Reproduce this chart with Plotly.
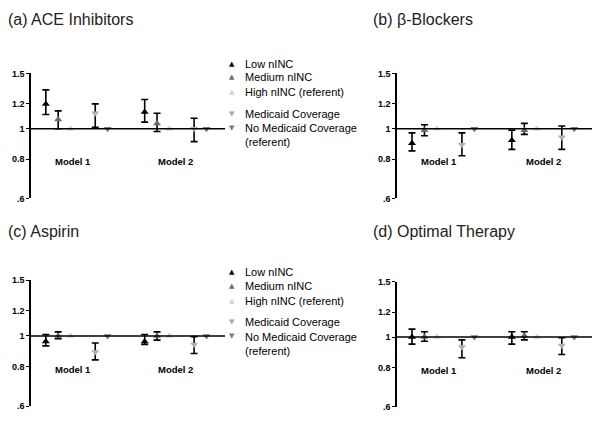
import math
import plotly.graph_objects as go

# The page body has an 8px margin, so the figure is drawn 8px in and the
# layout pixel coordinates below are shifted by OFF to land where intended.
OFF = 8
W, H = 600 - OFF, 421 - OFF

models = ["Model 1", "Model 2"]
series = ["Low nINC", "Medium nINC", "High nINC (referent)",
          "Medicaid Coverage", "No Medicaid Coverage (referent)"]
legend_labels = ["Low nINC", "Medium nINC", "High nINC (referent)",
                 "Medicaid Coverage", "No Medicaid Coverage<br>(referent)"]
titles = ["(a) ACE Inhibitors", "(b) \u03b2-Blockers", "(c) Aspirin", "(d) Optimal Therapy"]
tick_vals = [0.6, 0.8, 1.0, 1.2, 1.5]
tick_text = [".6", "0.8", "1", "1.2", "1.5"]

# values ordered [Model 1: Low, Medium, High, Medicaid, NoMedicaid, Model 2: same]
ace_or = [1.20, 1.07, 1.00, 1.12, 1.00, 1.13, 1.04, 1.00, 1.00, 1.00]
ace_lo = [1.11, 1.00, None, 1.01, None, 1.05, 0.98, None, 0.91, None]
ace_hi = [1.33, 1.14, None, 1.20, None, 1.24, 1.12, None, 1.08, None]

beta_or = [0.90, 0.99, 1.00, 0.89, 1.00, 0.92, 0.99, 1.00, 0.94, 1.00]
beta_lo = [0.85, 0.95, None, 0.82, None, 0.86, 0.96, None, 0.86, None]
beta_hi = [0.97, 1.03, None, 0.97, None, 0.99, 1.04, None, 1.02, None]

asp_or = [0.96, 1.00, 1.00, 0.89, 1.00, 0.96, 1.00, 1.00, 0.94, 1.00]
asp_lo = [0.93, 0.98, None, 0.84, None, 0.94, 0.97, None, 0.88, None]
asp_hi = [1.01, 1.03, None, 0.95, None, 1.01, 1.03, None, 0.995, None]

opt_or = [1.00, 1.00, 1.00, 0.93, 1.00, 1.00, 1.01, 1.00, 0.94, 1.00]
opt_lo = [0.95, 0.97, None, 0.86, None, 0.95, 0.98, None, 0.88, None]
opt_hi = [1.06, 1.04, None, 0.98, None, 1.04, 1.04, None, 0.995, None]

panels = [(ace_or, ace_lo, ace_hi), (beta_or, beta_lo, beta_hi),
          (asp_or, asp_lo, asp_hi), (opt_or, opt_lo, opt_hi)]

# styling
series_offsets = [1, 2, 3, 5, 6]
model_offsets = [0, 8]
model_label_pos = [3.2, 11.5]
symbols = ["triangle-up", "triangle-up", "triangle-up", "triangle-down", "triangle-down"]
colors = ["#000000", "#6a6a6a", "#d4d4d4", "#b0b0b0", "#7a7a7a"]
legend_colors = ["#000000", "#6a6a6a", "#d4d4d4", "#a8a8a8", "#7a7a7a"]
legend_syms = ["\u25b2", "\u25b2", "\u25b2", "\u25bc", "\u25bc"]

YMIN, YMAX = 0.6, 1.5
# panel geometry in screen pixels: (x_left, x_right, y_top(1.5), y_bottom(.6))
geom = [(31, 225, 70, 198), (397, 593, 70, 198),
        (31, 225, 281.7, 411), (397, 593, 283.3, 411.7)]
title_pos = [(8, 15), (373, 15), (8, 232), (373, 232)]


def px_x(x):
    return (x - OFF) / W


def px_y(y):
    return 1 - (y - OFF) / H


fig = go.Figure()
FONT = "Liberation Sans, Arial, sans-serif"
annotations = []
shapes = []

for i, (est, lo, hi) in enumerate(panels):
    n = i + 1
    xa = "x" if n == 1 else f"x{n}"
    ya = "y" if n == 1 else f"y{n}"
    for s in range(len(series)):
        xs, ys, ep, em = [], [], [], []
        for m in range(len(models)):
            k = m * len(series) + s
            xs.append(model_offsets[m] + series_offsets[s])
            ys.append(est[k])
            if hi[k] is None:
                ep.append(0); em.append(0)
            else:
                ep.append(hi[k] - est[k]); em.append(est[k] - lo[k])
        has_err = any(v > 0 for v in ep + em)
        fig.add_trace(go.Scatter(
            x=xs, y=ys, mode="markers", xaxis=xa, yaxis=ya, showlegend=False,
            name=series[s],
            marker=dict(symbol=symbols[s], size=7, color=colors[s], line=dict(width=0)),
            error_y=dict(type="data", symmetric=False, array=ep, arrayminus=em,
                         color="black", thickness=1.6, width=3.5, visible=has_err),
        ))
    xl, xr, yt, yb = geom[i]
    y0d, y1d = px_y(yb), px_y(yt)
    fig.update_layout(**{
        ("xaxis" if n == 1 else f"xaxis{n}"): dict(
            domain=[px_x(xl), min(px_x(xr), 1)], range=[-0.2, 15.5], visible=False,
            anchor=ya),
        ("yaxis" if n == 1 else f"yaxis{n}"): dict(
            domain=[y0d, y1d], type="log",
            range=[math.log10(YMIN), math.log10(YMAX)], anchor=xa,
            showline=True, linecolor="black", linewidth=1.5,
            ticks="outside", ticklen=3, tickwidth=1, tickcolor="black",
            tickvals=tick_vals, ticktext=tick_text, showgrid=False, zeroline=False,
            tickfont=dict(family=FONT, size=9, color="black", weight="bold")),
    })
    # reference line at OR = 1
    frac = (math.log10(1.0) - math.log10(YMIN)) / (math.log10(YMAX) - math.log10(YMIN))
    yline = y0d + frac * (y1d - y0d)
    shapes.append(dict(type="line", xref="paper", yref="paper",
                       x0=px_x(xl), x1=min(px_x(xr), 1), y0=yline, y1=yline,
                       line=dict(color="black", width=1.5), layer="above"))
    for m, lab in enumerate(models):
        annotations.append(dict(text=lab, xref=xa, yref=ya, x=model_label_pos[m],
                                y=math.log10(0.785), showarrow=False,
                                font=dict(family=FONT, size=9.5, color="black", weight="bold")))
    tx, ty = title_pos[i]
    annotations.append(dict(text=titles[i], xref="paper", yref="paper",
                            x=px_x(tx - 2), y=px_y(ty), xanchor="left", yanchor="middle",
                            showarrow=False, font=dict(family=FONT, size=16, color="#222")))

# legends next to panels (a) and (c), offsets from the OR=1 line in px
one_line = [125.5, 339.3]
row_off = [-65.5, -51.5, -36.5, -14.5, 0.0]
for one in one_line:
    for s in range(len(series)):
        ypx = one + row_off[s]
        annotations.append(dict(text=legend_syms[s], xref="paper", yref="paper",
                                x=px_x(231.7), y=px_y(ypx), xanchor="center", yanchor="middle",
                                showarrow=False,
                                font=dict(family="DejaVu Sans", size=7, color=legend_colors[s])))
        lab = legend_labels[s]
        two = "<br>" in lab
        annotations.append(dict(text=lab, xref="paper", yref="paper",
                                x=px_x(243), y=px_y(ypx - 7.5) if two else px_y(ypx),
                                xanchor="left", yanchor="top" if two else "middle",
                                align="left", showarrow=False,
                                font=dict(family=FONT, size=11, color="black")))

fig.update_layout(width=W, height=H, margin=dict(l=0, r=0, t=0, b=0),
                  plot_bgcolor="white", paper_bgcolor="white",
                  annotations=annotations, shapes=shapes, showlegend=False)
fig.write_html("out.html")
